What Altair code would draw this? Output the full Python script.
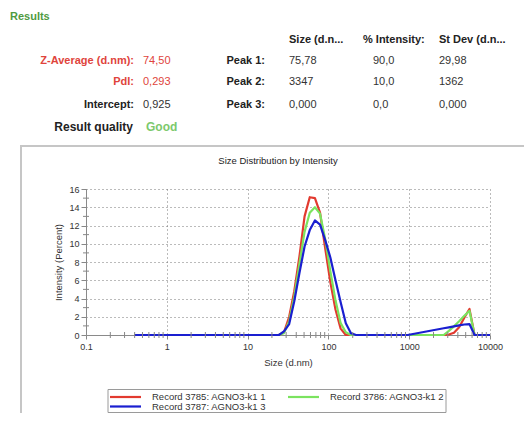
import altair as alt
import pandas as pd

# ---------------- data ----------------
sizes = [0.4, 24.4, 28.2, 32.7, 37.8, 43.8, 50.7, 58.8, 68.1, 78.8, 91.3, 105.7,
         122.4, 141.8, 164.2, 190.1, 220.2, 255.0, 957, 2673, 3097, 3581, 4150,
         4808, 5569, 6442, 7464, 10000]
rec_3785 = [0, 0, 0.3, 2.0, 4.8, 8.6, 13.0, 15.1, 15.0, 13.4, 9.5, 5.8,
            2.8, 0.7, 0, 0, 0, 0, 0, 0, 0.05, 0.25, 0.85,
            1.9, 2.85, 0, 0, 0]
rec_3786 = [0, 0, 0.2, 1.5, 4.2, 7.8, 11.3, 13.4, 14.0, 13.3, 10.5, 7.0,
            3.8, 1.3, 0.3, 0, 0, 0, 0, 0, 0.45, 0.95, 1.5,
            2.1, 2.65, 0, 0, 0]
rec_3787 = [0, 0, 0.4, 1.2, 3.7, 6.8, 9.7, 11.5, 12.55, 12.1, 10.4, 8.5,
            6.0, 3.6, 1.3, 0.2, 0, 0, 0, 0.74, 0.84, 0.95, 1.05,
            1.15, 1.2, 0, 0, 0]
series_names = ["Record 3785: AGNO3-k1 1", "Record 3786: AGNO3-k1 2",
                "Record 3787: AGNO3-k1 3"]
series_values = [rec_3785, rec_3786, rec_3787]
series_colors = ["#e23a2f", "#7be35f", "#1a1fd0"]

x_ticks = [0.1, 1, 10, 100, 1000, 10000]
x_minor = [m * d for d in [0.1, 1, 10, 100, 1000] for m in range(2, 10)]
y_ticks = [0, 2, 4, 6, 8, 10, 12, 14, 16]
y_minor = [1, 3, 5, 7, 9, 11, 13, 15]

summary_labels = ["Z-Average (d.nm):", "PdI:", "Intercept:"]
summary_values = ["74,50", "0,293", "0,925"]
quality_label = "Result quality"
quality_value = "Good"
peak_headers = ["Size (d.n...", "% Intensity:", "St Dev (d.n..."]
peak_labels = ["Peak 1:", "Peak 2:", "Peak 3:"]
peak_size = ["75,78", "3347", "0,000"]
peak_intensity = ["90,0", "10,0", "0,0"]
peak_stdev = ["29,98", "1362", "0,000"]
results_title = "Results"
chart_title = "Size Distribution by Intensity"
x_title = "Size (d.nm)"
y_title = "Intensity (Percent)"

# ---------------- layout ----------------
FONT = "Liberation Sans"
W, H = 404, 146
OX, OY = 86, 189  # plot origin on the page
SVG_W, SVG_H = 516, 405


def rx(px):
    return px - OX


def ry(py):
    return py - OY


one = alt.Data(values=[{}])


def txt(s, px, py, size=11, bold=False, color="#333333", align="left", angle=0):
    kw = dict(text=s, align=align, baseline="middle", fontSize=size,
              font=FONT, color=color, fontWeight="bold" if bold else "normal")
    if angle:
        kw["angle"] = angle
    return alt.Chart(one).mark_text(**kw).encode(
        x=alt.value(rx(px)), y=alt.value(ry(py)))


xscale = alt.Scale(type="log", domain=[0.1, 10000], nice=False)
yscale = alt.Scale(domain=[0, 16], nice=False)

x_axis = alt.Axis(values=x_ticks, format="~g", labelFont=FONT, labelFontSize=9,
                  labelColor="#333333", tickSize=4, tickColor="#888888",
                  domainColor="#8a8a8a", grid=True, gridDash=[1, 3],
                  gridColor="#777777", labelPadding=3, titleFont=FONT,
                  titleFontSize=9.5, titleFontWeight="normal",
                  titleColor="#333333", titlePadding=6, labelFlush=False)
y_axis = alt.Axis(values=y_ticks, labelFont=FONT, labelFontSize=9,
                  labelColor="#333333", tickSize=5, tickColor="#888888",
                  domainColor="#8a8a8a", grid=True, gridDash=[1, 3],
                  gridColor="#777777", labelPadding=2, titleFont=FONT,
                  titleFontSize=9.5, titleFontWeight="normal",
                  titleColor="#333333", titlePadding=5)


def X(field):
    return alt.X(field, scale=xscale, axis=x_axis, title=x_title)


def Y(field):
    return alt.Y(field, scale=yscale, axis=y_axis, title=y_title)


layers = []

# outer frame of the chart panel
layers.append(alt.Chart(one).mark_rect(fill="transparent", stroke="#c6c6c6",
                                       strokeWidth=2).encode(
    x=alt.value(rx(21)), x2=alt.value(rx(540)),
    y=alt.value(ry(146)), y2=alt.value(ry(440))))

# series lines
for name, vals, col in zip(series_names, series_values, series_colors):
    df = pd.DataFrame({"size": sizes, "intensity": vals})
    layers.append(alt.Chart(df).mark_line(color=col, strokeWidth=2.2,
                                          strokeJoin="round").encode(
        x=X("size:Q"), y=Y("intensity:Q")))

# minor ticks
layers.append(alt.Chart(pd.DataFrame({"size": x_minor})).mark_rule(
    color="#888888", strokeWidth=1).encode(
    x=X("size:Q"), y=alt.value(H - 3), y2=alt.value(H + 3)))
layers.append(alt.Chart(pd.DataFrame({"intensity": y_minor})).mark_rule(
    color="#888888", strokeWidth=1).encode(
    y=Y("intensity:Q"), x=alt.value(-3), x2=alt.value(3)))

# chart title
layers.append(txt(chart_title, 278, 161, size=9.5, color="#222222", align="center"))

# header block
layers.append(txt(results_title, 10, 17, size=11, bold=True, color="#4f9a41"))
row_y = [61, 82, 104.5]
label_colors = ["#e0443c", "#e0443c", "#222222"]
value_colors = ["#e0443c", "#e0443c", "#333333"]
for lab, val, y, lc, vc in zip(summary_labels, summary_values, row_y,
                               label_colors, value_colors):
    layers.append(txt(lab, 134, y, bold=True, color=lc, align="right"))
    layers.append(txt(val, 143, y, color=vc))
layers.append(txt(quality_label, 133, 127, size=12, bold=True,
                  color="#222222", align="right"))
layers.append(txt(quality_value, 146, 127, size=12, bold=True, color="#7cc96c"))

col_x = [289, 363, 439]
for h, x in zip(peak_headers, col_x):
    layers.append(txt(h, x, 39.5, bold=True, color="#222222"))
val_x = [289, 373, 439]
for i, y in enumerate(row_y):
    layers.append(txt(peak_labels[i], 265, y, bold=True, color="#222222",
                      align="right"))
    for col, x in zip([peak_size, peak_intensity, peak_stdev], val_x):
        layers.append(txt(col[i], x, y, color="#333333"))

# legend
layers.append(alt.Chart(one).mark_rect(fill="white", stroke="#9a9a9a",
                                       strokeWidth=1).encode(
    x=alt.value(rx(108)), x2=alt.value(rx(446)),
    y=alt.value(ry(389.5)), y2=alt.value(ry(412.5))))
leg_pos = [(110, 397), (288, 397), (110, 406.5)]
for name, col, (lx, ly) in zip(series_names, series_colors, leg_pos):
    layers.append(alt.Chart(one).mark_rule(color=col, strokeWidth=2.2).encode(
        x=alt.value(rx(lx)), x2=alt.value(rx(lx + 31)), y=alt.value(ry(ly))))
    layers.append(txt(name, lx + 42, ly, size=9.5, color="#333333"))

chart = alt.layer(*layers).properties(
    width=W, height=H,
    padding={"left": OX - 8, "top": OY - 8, "right": SVG_W - (OX - 8) - W,
             "bottom": SVG_H - (OY - 8) - H},
    autosize=alt.AutoSizeParams(type="none"),
).configure(font=FONT, view=alt.ViewConfig(strokeWidth=0))

chart.save("out.html", embed_options={"renderer": "svg", "actions": False})
